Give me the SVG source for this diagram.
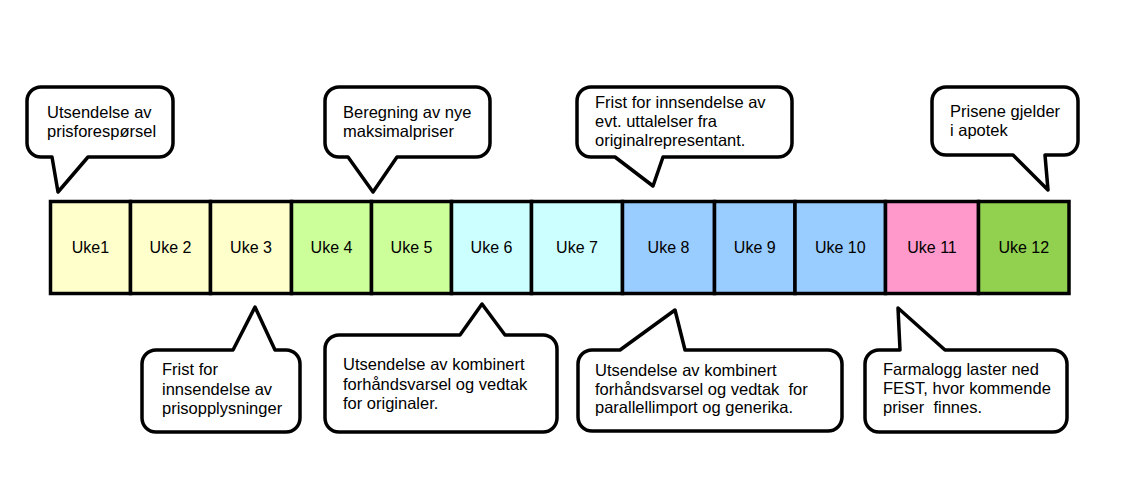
<svg xmlns="http://www.w3.org/2000/svg" width="1137" height="496" viewBox="0 0 1137 496">
<style>
.cell{stroke:#000;stroke-width:3.5}
.lbl{font-family:"Liberation Sans",Arial,sans-serif;font-size:16px;fill:#000;text-anchor:middle}
.co{fill:#fff;stroke:#000;stroke-width:3.5;stroke-linejoin:round}
.ct{font-family:"Liberation Sans",Arial,sans-serif;font-size:16.5px;fill:#000}
</style>
<rect width="1137" height="496" fill="#fff"/>
<g id="weeks">
<g id="uke1"><rect class="cell" x="50.5" y="201.5" width="80" height="92" fill="#FFFFCC"/><text class="lbl" x="90.5" y="253">Uke1</text></g>
<g id="uke2"><rect class="cell" x="130.5" y="201.5" width="80" height="92" fill="#FFFFCC"/><text class="lbl" x="170.5" y="253">Uke 2</text></g>
<g id="uke3"><rect class="cell" x="210.5" y="201.5" width="81" height="92" fill="#FFFFCC"/><text class="lbl" x="251" y="253">Uke 3</text></g>
<g id="uke4"><rect class="cell" x="291.5" y="201.5" width="80" height="92" fill="#CCFF99"/><text class="lbl" x="331.5" y="253">Uke 4</text></g>
<g id="uke5"><rect class="cell" x="371.5" y="201.5" width="80" height="92" fill="#CCFF99"/><text class="lbl" x="411.5" y="253">Uke 5</text></g>
<g id="uke6"><rect class="cell" x="451.5" y="201.5" width="80" height="92" fill="#CCFFFF"/><text class="lbl" x="491.5" y="253">Uke 6</text></g>
<g id="uke7"><rect class="cell" x="531.5" y="201.5" width="91" height="92" fill="#CCFFFF"/><text class="lbl" x="577" y="253">Uke 7</text></g>
<g id="uke8"><rect class="cell" x="622.5" y="201.5" width="92" height="92" fill="#99CCFF"/><text class="lbl" x="668.5" y="253">Uke 8</text></g>
<g id="uke9"><rect class="cell" x="714.5" y="201.5" width="80.5" height="92" fill="#99CCFF"/><text class="lbl" x="754.75" y="253">Uke 9</text></g>
<g id="uke10"><rect class="cell" x="795" y="201.5" width="90.5" height="92" fill="#99CCFF"/><text class="lbl" x="840.25" y="253">Uke 10</text></g>
<g id="uke11"><rect class="cell" x="885.5" y="201.5" width="93" height="92" fill="#FF99CC"/><text class="lbl" x="932" y="253">Uke 11</text></g>
<g id="uke12"><rect class="cell" x="978.5" y="201.5" width="90.5" height="92" fill="#92D050"/><text class="lbl" x="1023.75" y="253">Uke 12</text></g>
</g>
<g id="callouts">
<g id="c1"><path class="co" d="M41,87 H159 A14,14 0 0 1 173,101 V143 A14,14 0 0 1 159,157 H88 L58,192 L52,157 H41 A14,14 0 0 1 27,143 V101 A14,14 0 0 1 41,87 Z"/>
<text class="ct" x="47" y="118">Utsendelse av</text><text class="ct" x="47" y="137">prisforespørsel</text></g>
<g id="c2"><path class="co" d="M339,87 H476 A14,14 0 0 1 490,101 V143 A14,14 0 0 1 476,157 H397 L373,192 L348,157 H339 A14,14 0 0 1 325,143 V101 A14,14 0 0 1 339,87 Z"/>
<text class="ct" x="343" y="118">Beregning av nye</text><text class="ct" x="343" y="137">maksimalpriser</text></g>
<g id="c3"><path class="co" d="M591,87 H778 A14,14 0 0 1 792,101 V143 A14,14 0 0 1 778,157 H663 L653,186 L615,157 H591 A14,14 0 0 1 577,143 V101 A14,14 0 0 1 591,87 Z"/>
<text class="ct" x="595" y="108">Frist for innsendelse av</text><text class="ct" x="595" y="127">evt. uttalelser fra</text><text class="ct" x="595" y="146">originalrepresentant.</text></g>
<g id="c4"><path class="co" d="M946,87 H1064 A14,14 0 0 1 1078,101 V141 A14,14 0 0 1 1064,155 H1045 L1048,190 L1013,155 H946 A14,14 0 0 1 932,141 V101 A14,14 0 0 1 946,87 Z"/>
<text class="ct" x="950" y="117">Prisene gjelder</text><text class="ct" x="950" y="136">i apotek</text></g>
<g id="c5"><path class="co" d="M156,350 H233 L255,307 L275,350 H286 A14,14 0 0 1 300,364 V418 A14,14 0 0 1 286,432 H156 A14,14 0 0 1 142,418 V364 A14,14 0 0 1 156,350 Z"/>
<text class="ct" x="162" y="375">Frist for</text><text class="ct" x="162" y="395">innsendelse av</text><text class="ct" x="162" y="414">prisopplysninger</text></g>
<g id="c6"><path class="co" d="M339,335 H460 L482,304 L505,335 H543 A14,14 0 0 1 557,349 V418 A14,14 0 0 1 543,432 H339 A14,14 0 0 1 325,418 V349 A14,14 0 0 1 339,335 Z"/>
<text class="ct" x="343" y="370">Utsendelse av kombinert</text><text class="ct" x="343" y="390">forhåndsvarsel og vedtak</text><text class="ct" x="343" y="409">for originaler.</text></g>
<g id="c7"><path class="co" d="M592,350 H620 L675,310 L685,350 H828 A14,14 0 0 1 842,364 V417 A14,14 0 0 1 828,431 H592 A14,14 0 0 1 578,417 V364 A14,14 0 0 1 592,350 Z"/>
<text class="ct" x="595" y="376">Utsendelse av kombinert</text><text class="ct" x="595" y="395" xml:space="preserve">forhåndsvarsel og vedtak  for</text><text class="ct" x="595" y="413">parallellimport og generika.</text></g>
<g id="c8"><path class="co" d="M879,350 H900 L898,308 L945,350 H1053 A14,14 0 0 1 1067,364 V418 A14,14 0 0 1 1053,432 H879 A14,14 0 0 1 865,418 V364 A14,14 0 0 1 879,350 Z"/>
<text class="ct" x="883" y="375">Farmalogg laster ned</text><text class="ct" x="883" y="394">FEST, hvor kommende</text><text class="ct" x="883" y="413" xml:space="preserve">priser  finnes.</text></g>
</g>
</svg>
